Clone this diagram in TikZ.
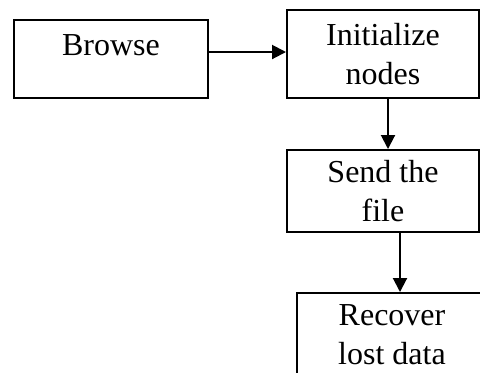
\documentclass[tikz,border=0pt]{standalone}
\usepackage{fontspec}
\setmainfont{Liberation Serif}
\usetikzlibrary{positioning,arrows.meta}

\begin{document}
\begin{tikzpicture}[x=0.5pt, y=-0.5pt,
  every node/.style = {shape=rectangle, draw, line width=1pt,
    align=center, inner sep=0pt,
    font=\fontsize{16}{19.5}\selectfont},
  flow/.style = {-{Triangle[length=7pt,width=7pt]}, line width=1pt}]
  \useasboundingbox (0,0) rectangle (480,372);
  \node (browse) [minimum width=97pt, minimum height=39pt, text depth=14pt] at (111,59) {Browse};
  \node (init) [minimum width=96pt, minimum height=44pt] at (383,54) {Initialize\\nodes};
  \node (send) [minimum width=96pt, minimum height=41pt] at (383,191) {Send the\\file};
  \node (recover) [minimum width=95pt, minimum height=42pt] at (392,335) {Recover\\lost data};
  \draw[flow] ([yshift=3.5pt]browse.east) -- ([yshift=3.5pt]browse.east -| init.west);
  \draw[flow] ([xshift=2.5pt]init.south) -- ([xshift=2.5pt]init.south |- send.north);
  \draw[flow] ([xshift=4pt]recover.north |- send.south) -- ([xshift=4pt]recover.north);
\end{tikzpicture}
\end{document}
